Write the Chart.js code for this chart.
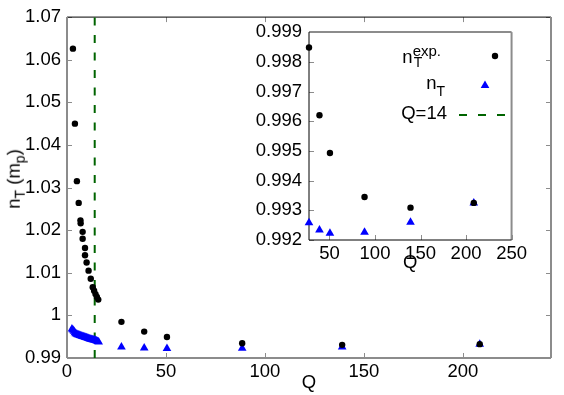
<!DOCTYPE html>
<html lang="en">
  <head>
    <meta charset="UTF-8" />
    <title>n_T vs Q</title>
    <script src="https://cdn.jsdelivr.net/npm/chart.js@4.4.1/dist/chart.umd.min.js"></script>
    <style>
      body { margin: 0; background: #fff; font-family: "Liberation Sans", Arial, sans-serif; }
      #wrap { position: relative; width: 564px; height: 395px; overflow: hidden; }
      #main { position: absolute; left: 0; top: 0; }
      #inset { position: absolute; left: 240px; top: 14px; }
      .txt { position: absolute; font-size: 18.5px; line-height: 1; color: #000; white-space: nowrap; }
      .sp { position: relative; top: -7px; font-size: 15px; }
      .sb { font-size: 14px; position: relative; top: 7px; }
      .sbA { font-size: 14px; position: absolute; left: 1px; top: 9px; }
      #ytitle { left: 14px; top: 179px; transform: translate(-50%, -50%) rotate(-90deg); }
    </style>
  </head>
  <body>
    <div id="wrap">
      <canvas id="main" width="564" height="395"></canvas>
      <canvas id="inset" width="290" height="276"></canvas>
      <div class="txt" id="ytitle">n<span class="sb" style="top:5px">T</span> (m<span class="sb" style="top:5px">p</span>)</div>
      <div class="txt" style="right:123px; top:48px">n<span style="position:relative"><span class="sp">exp.</span><span class="sbA">T</span></span></div>
      <div class="txt" style="right:119px; top:74px">n<span class="sb">T</span></div>
      <div class="txt" style="right:117px; top:104px">Q=14</div>
    </div>

    <script>
      // n_T^exp. (black dots)
      var qExp = [3, 4, 5, 5.9, 6.8, 6.9, 7.9, 7.9, 9.1, 9.1, 9.9, 10.9, 12, 13, 13.7, 14.4, 15.1, 15.8,
                  27.5, 39, 50.5, 88.5, 139, 208.5];
      var nExp = [1.0626, 1.045, 1.0315, 1.0264, 1.0223, 1.0216, 1.0196, 1.018, 1.0158, 1.0141, 1.0124,
                  1.0105, 1.0086, 1.0066, 1.0058, 1.005, 1.0043, 1.0037,
                  0.99848, 0.9962, 0.99493, 0.99345, 0.99309, 0.99325];
      // n_T (blue triangles)
      var qT = [2.5, 3, 3.5, 4, 4.5, 5, 5.5, 6, 6.5, 7, 7.5, 8, 8.5, 9, 9.5, 10, 10.5, 11, 11.5, 12,
                12.5, 13, 13.5, 14, 14.5, 15, 15.5, 16,
                27.5, 39, 50.5, 88.5, 139, 208.5];
      var nT = [0.9968, 0.99655, 0.99628, 0.99592, 0.99572, 0.9956, 0.99548, 0.99538, 0.9953, 0.99521,
                0.99513, 0.99505, 0.99497, 0.99489, 0.99481, 0.99473, 0.99465, 0.99455, 0.99448, 0.99441,
                0.99434, 0.99427, 0.99421, 0.99416, 0.99408, 0.99398, 0.99388, 0.99378,
                0.99258, 0.99234, 0.99223, 0.99226, 0.9926, 0.99325];
      var qCut = 14;

      var xTicksMain = [0, 50, 100, 150, 200];
      var yTicksMain = [0.99, 1, 1.01, 1.02, 1.03, 1.04, 1.05, 1.06, 1.07];
      var xTicksInset = [50, 100, 150, 200, 250];
      var yTicksInset = [0.992, 0.993, 0.994, 0.995, 0.996, 0.997, 0.998, 0.999];

      var FONT = { family: "'Liberation Sans', Arial, sans-serif", size: 18.5 };
      var GRAY = "#8c8c8c";

      function pts(xs, ys, xmin) {
        var out = [];
        for (var i = 0; i < xs.length; i++) {
          if (xmin === undefined || xs[i] >= xmin) out.push({ x: xs[i], y: ys[i] });
        }
        return out;
      }

      function line(ctx, x1, y1, x2, y2) {
        ctx.beginPath();
        ctx.moveTo(x1, y1);
        ctx.lineTo(x2, y2);
        ctx.stroke();
      }

      // box + inward ticks
      var framePlugin = {
        id: "frame",
        beforeDatasetsDraw: function (chart, args, o) {
          var ctx = chart.ctx, a = chart.chartArea;
          var xs = chart.scales.x, ys = chart.scales.y;
          ctx.save();
          ctx.strokeStyle = o.tickColor;
          ctx.lineWidth = 1;
          ys.ticks.forEach(function (t) {
            var y = Math.round(ys.getPixelForValue(t.value)) + 0.5;
            line(ctx, a.left, y, a.left + o.tickLen, y);
            if (o.mirror) line(ctx, a.right, y, a.right - o.tickLen, y);
          });
          xs.ticks.forEach(function (t) {
            var x = Math.round(xs.getPixelForValue(t.value)) + 0.5;
            line(ctx, x, a.bottom, x, a.bottom - o.tickLen);
            if (o.mirror) line(ctx, x, a.top, x, a.top + o.tickLen);
          });
          var sides = [
            [a.left, a.top, a.right, a.top, o.top],
            [a.right, a.top, a.right, a.bottom, o.right],
            [a.left, a.bottom, a.right, a.bottom, o.bottom],
            [a.left, a.top, a.left, a.bottom, o.left]
          ];
          sides.forEach(function (s) {
            ctx.strokeStyle = s[4][0];
            ctx.lineWidth = s[4][1];
            line(ctx, s[0], s[1], s[2], s[3]);
          });
          ctx.restore();
        }
      };

      // key samples inside the inset
      var keyPlugin = {
        id: "key",
        afterDatasetsDraw: function (chart) {
          var ctx = chart.ctx;
          ctx.save();
          ctx.fillStyle = "#000";
          ctx.beginPath();
          ctx.arc(255, 42, 3.2, 0, Math.PI * 2);
          ctx.fill();
          var r = 5, cx = 245, cy = 71.5;
          ctx.fillStyle = "#0000ff";
          ctx.beginPath();
          ctx.moveTo(cx, cy - r);
          ctx.lineTo(cx + r * 0.866, cy + r / 2);
          ctx.lineTo(cx - r * 0.866, cy + r / 2);
          ctx.closePath();
          ctx.fill();
          ctx.strokeStyle = "#006400";
          ctx.lineWidth = 2;
          ctx.setLineDash([8, 11]);
          line(ctx, 219, 101, 268, 101);
          ctx.restore();
        }
      };

      function fixTicks(list) {
        return function (scale) {
          scale.ticks = list.map(function (v) { return { value: v }; });
        };
      }

      var dotSet = {
        pointStyle: "circle", pointRadius: 3.2, backgroundColor: "#000",
        borderWidth: 0, pointHoverRadius: 3.2, clip: false
      };
      var triSet = {
        pointStyle: "triangle", pointRadius: 5, backgroundColor: "#0000ff",
        borderWidth: 0, pointHoverRadius: 5, clip: false
      };

      new Chart(document.getElementById("main"), {
        type: "scatter",
        data: {
          datasets: [
            Object.assign({ label: "n_T exp.", data: pts(qExp, nExp) }, dotSet),
            Object.assign({ label: "n_T", data: pts(qT, nT) }, triSet),
            {
              type: "line", label: "Q=14",
              data: [{ x: qCut, y: yTicksMain[0] }, { x: qCut, y: yTicksMain[yTicksMain.length - 1] }],
              borderColor: "#006400", borderWidth: 2, borderDash: [8, 9.5],
              pointRadius: 0, fill: false
            }
          ]
        },
        options: {
          responsive: false, animation: false, events: [],
          layout: { padding: { left: 0, right: 13, top: 10, bottom: 0 } },
          plugins: {
            legend: { display: false }, tooltip: { enabled: false },
            frame: {
              tickLen: 5, tickColor: GRAY, mirror: true,
              top: ["#000", 1], right: [GRAY, 2], bottom: [GRAY, 2], left: [GRAY, 2]
            }
          },
          scales: {
            x: {
              type: "linear", min: 0, max: 244.5,
              afterBuildTicks: fixTicks(xTicksMain),
              afterFit: function (s) { s.height = 37; },
              grid: { display: false, drawTicks: false }, border: { display: false },
              ticks: { color: "#000", font: FONT, padding: 3, maxRotation: 0, autoSkip: false },
              title: { display: true, text: "Q", color: "#000", font: FONT, padding: { top: 0, bottom: 1 } }
            },
            y: {
              type: "linear", min: 0.99, max: 1.07,
              afterBuildTicks: fixTicks(yTicksMain),
              afterFit: function (s) { s.width = 67; },
              grid: { display: false, drawTicks: false }, border: { display: false },
              ticks: {
                color: "#000", font: FONT, padding: 6, autoSkip: false,
                callback: function (v) { return String(parseFloat(v.toFixed(2))); }
              }
            }
          }
        },
        plugins: [framePlugin]
      });

      new Chart(document.getElementById("inset"), {
        type: "scatter",
        data: {
          datasets: [
            Object.assign({ label: "n_T exp.", data: pts(qExp, nExp, 27) }, dotSet),
            Object.assign({ label: "n_T", data: pts(qT, nT, 27) }, triSet)
          ]
        },
        options: {
          responsive: false, animation: false, events: [],
          layout: { padding: { left: 0, right: 15, top: 18, bottom: 0 } },
          plugins: {
            legend: { display: false }, tooltip: { enabled: false },
            frame: {
              tickLen: 5, tickColor: GRAY, mirror: false,
              top: [GRAY, 2], right: [GRAY, 2], bottom: ["#000", 1], left: ["#000", 1]
            }
          },
          scales: {
            x: {
              type: "linear", min: 27.5, max: 250,
              afterBuildTicks: fixTicks(xTicksInset),
              afterFit: function (s) { s.height = 50; },
              grid: { display: false, drawTicks: false }, border: { display: false },
              ticks: { color: "#000", font: FONT, padding: 3, maxRotation: 0, autoSkip: false },
              title: { display: true, text: "Q", color: "#000", font: FONT, padding: { top: 0, bottom: 16 } }
            },
            y: {
              type: "linear", min: 0.992, max: 0.999,
              afterBuildTicks: fixTicks(yTicksInset),
              afterFit: function (s) { s.width = 69; },
              grid: { display: false, drawTicks: false }, border: { display: false },
              ticks: {
                color: "#000", font: FONT, padding: 7, autoSkip: false,
                callback: function (v) { return v.toFixed(3); }
              }
            }
          }
        },
        plugins: [framePlugin, keyPlugin]
      });
    </script>
  </body>
</html>
